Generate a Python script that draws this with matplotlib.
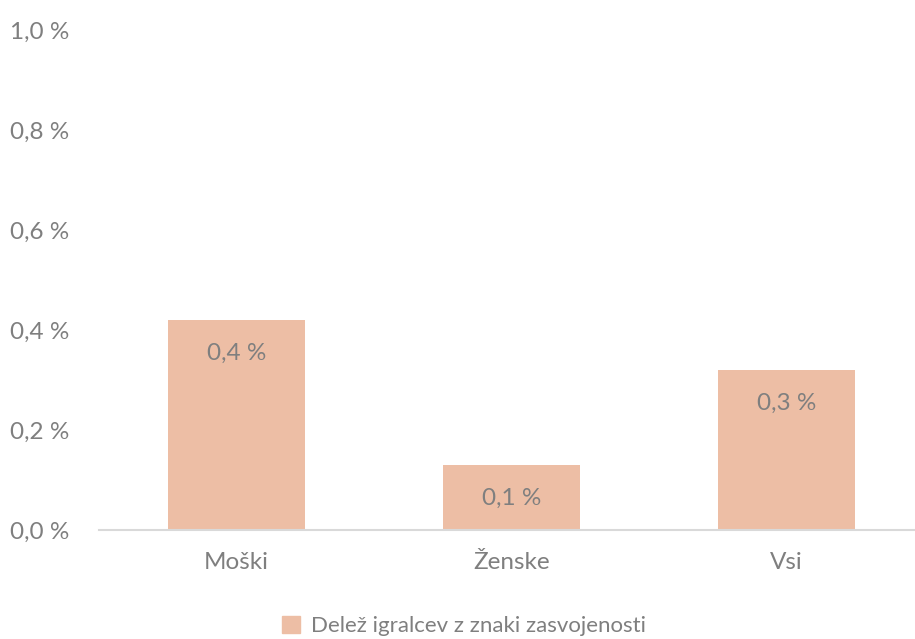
import matplotlib.pyplot as plt
from matplotlib.patches import Patch

categories = ['Moški', 'Ženske', 'Vsi']
shares = [0.42, 0.13, 0.32]
yticks = [0.0, 0.2, 0.4, 0.6, 0.8, 1.0]
series_name = 'Delež igralcev z znaki zasvojenosti'

bar_color = '#EDBEA5'
text_color = '#7F7F7F'

plt.rcParams['font.family'] = ['Lato', 'DejaVu Sans']

fig = plt.figure(figsize=(9.15, 6.39), dpi=100)
ax = fig.add_axes([99 / 915, 109 / 639, 825 / 915, 500 / 639])

x = range(len(categories))
bars = ax.bar(x, shares, width=0.5, color=bar_color, zorder=2)

# value labels just under the top of each bar
for b, v in zip(bars, shares):
    ax.annotate(f'{v:.1f} %'.replace('.', ','),
                xy=(b.get_x() + b.get_width() / 2, v),
                xytext=(0, -24), textcoords='offset points',
                ha='center', va='center', fontsize=17.5, color=text_color)

ax.set_xlim(-0.5, 2.5)
ax.set_ylim(0, 1.0)
ax.set_xticks(list(x))
ax.set_xticklabels(categories, fontsize=17.5, color=text_color)
ax.set_yticks(yticks)
ax.set_yticklabels([f'{t:.1f} %'.replace('.', ',') for t in yticks],
                   fontsize=17.5, color=text_color, ha='left')
ax.tick_params(axis='y', length=0, pad=64)
ax.tick_params(axis='x', length=0, pad=16)

for s in ['top', 'right', 'left']:
    ax.spines[s].set_visible(False)
ax.spines['bottom'].set_color('#D9D9D9')
ax.spines['bottom'].set_linewidth(1.5)

fig.legend(handles=[Patch(color=bar_color)], labels=[series_name],
           loc='center', bbox_to_anchor=(464 / 915, 1 - 626 / 639),
           frameon=False, fontsize=16, handlelength=0.8, handleheight=0.8,
           handletextpad=0.5, labelcolor=text_color)

fig.savefig('out.png', dpi=100)
